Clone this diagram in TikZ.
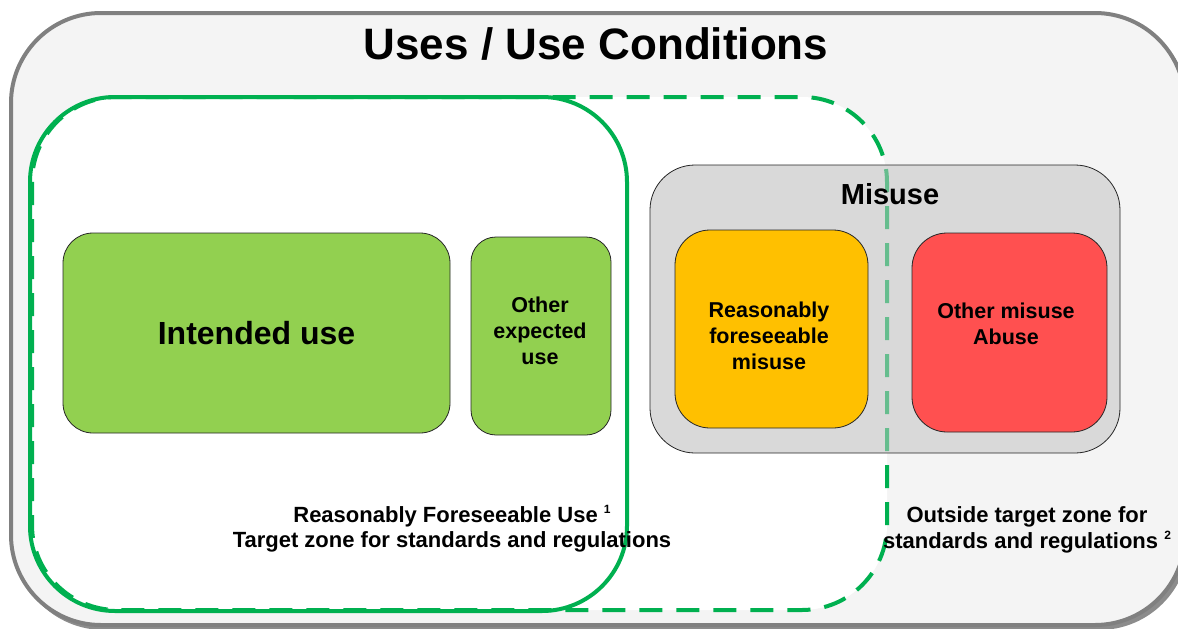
\documentclass[tikz,border=0pt]{standalone}
\usepackage{fontspec}
\setmainfont{Liberation Sans}
\definecolor{grn}{HTML}{00B050}
\definecolor{lightgrn}{HTML}{66BD8E}
\definecolor{outerfill}{HTML}{F4F4F4}
\definecolor{outerline}{HTML}{808080}
\definecolor{misusefill}{HTML}{D9D9D9}
\definecolor{lgreen}{HTML}{92D050}
\definecolor{orng}{HTML}{FFC000}
\definecolor{redb}{HTML}{FF5050}
\newcommand{\supnum}[1]{\raisebox{0.4em}{\fontsize{12}{12}\selectfont #1}}
\begin{document}
\begin{tikzpicture}[x=1pt,y=-1pt,
  box/.style={rectangle, draw=black!85, line width=0.8pt, inner sep=0pt},
  smalltext/.style={align=center, font=\bfseries\fontsize{21.5}{26}\selectfont},
  zoneline/.style={line width=4pt, rounded corners=85},
  zonedash/.style={zoneline, dash pattern=on 23pt off 14pt}
]
\clip (0,0) rectangle (1178,629);
% outer frame
\fill[black!45, rounded corners=90] (14,16) rectangle (1189,630);
\node[rectangle, rounded corners=90, fill=outerfill, draw=outerline, line width=4pt,
      minimum width=1174, minimum height=612, inner sep=0pt] (outer) at (598,319) {};
\node[font=\bfseries\fontsize{44}{50}\selectfont] (title) at (596,44) {Uses / Use Conditions};
% zones
\fill[white, rounded corners=85] (30,97) rectangle (627,611);
\fill[white, rounded corners=85] (32,97) rectangle (887,610);
\draw[zoneline, draw=grn] (30,97) rectangle (627,611);
\draw[zonedash, draw=grn] (32,97) rectangle (887,610);
% misuse
\node[box, fill=misusefill, rounded corners=45, minimum width=470, minimum height=288] (misuse) at (885,309) {};
\begin{scope}
  \clip[rounded corners=45] (650,165) rectangle (1120,453);
  \draw[zonedash, draw=lightgrn] (32,97) rectangle (887,610);
\end{scope}
\node[font=\bfseries\fontsize{29}{34}\selectfont] (misusetitle) at (890,194) {Misuse};
\node[box, fill=orng, rounded corners=35, minimum width=193, minimum height=198] (rfm) at (771.5,329) {};
\node[smalltext] (rfmtext) at (769,336) {Reasonably\\foreseeable\\misuse};
\node[box, fill=redb, rounded corners=35, minimum width=195, minimum height=199] (abuse) at (1009.5,332.5) {};
\node[smalltext] (abusetext) at (1006,324) {Other misuse\\Abuse};
% uses
\node[box, fill=lgreen, rounded corners=30, minimum width=387, minimum height=200,
      font=\bfseries\fontsize{32}{38}\selectfont] (intended) at (256.5,333) {Intended use};
\node[box, fill=lgreen, rounded corners=25, minimum width=140, minimum height=198] (other) at (541,336) {};
\node[smalltext] (othertext) at (540,331) {Other\\expected\\use};
% labels
\node[align=center, font=\bfseries\fontsize{22}{25.5}\selectfont] (rfu) at (452,529) {Reasonably Foreseeable Use \supnum{1}\\Target zone for standards and regulations};
\node[align=center, font=\bfseries\fontsize{22}{26}\selectfont] (outside) at (1027,530) {Outside target zone for\\standards and regulations \supnum{2}};
\end{tikzpicture}
\end{document}
